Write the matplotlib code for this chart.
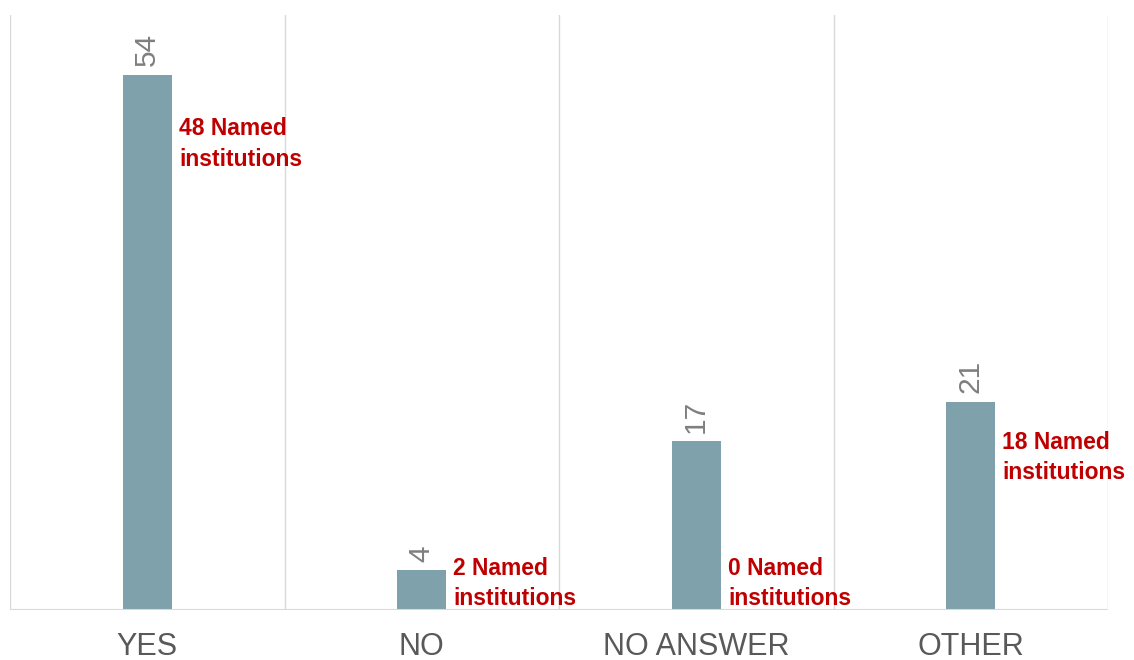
import matplotlib
matplotlib.use("Agg")
import matplotlib.pyplot as plt

categories = ["YES", "NO", "NO ANSWER", "OTHER"]
counts = [54, 4, 17, 21]
named = [48, 2, 0, 18]
note_y = [47, 2.7, 2.7, 15.4]

plt.rcParams["font.family"] = ["Liberation Sans", "DejaVu Sans"]

fig = plt.figure(figsize=(11.34, 6.6), dpi=100)
ax = fig.add_axes([10 / 1134, 50 / 660, 1098 / 1134, 595 / 660])

bar_w = 0.18
x = list(range(len(categories)))
ax.bar(x, counts, width=bar_w, color="#7ea1ab", zorder=3)

grid_c = "#d9d9d9"
for b in [i - 0.5 for i in range(len(categories) + 1)]:
    ax.axvline(b, color=grid_c, lw=1.0, zorder=1)
ax.axhline(0, color=grid_c, lw=1.5, zorder=4)

for xi, v, n, ny in zip(x, counts, named, note_y):
    ax.annotate(str(v), (xi, v), xytext=(0, 6), textcoords="offset points",
                rotation=90, ha="center", va="bottom", fontsize=21.5,
                color="#7f7f7f")
    ax.annotate(f"{n} Named\ninstitutions", (xi + bar_w / 2, ny),
                xytext=(5, 0), textcoords="offset points", ha="left",
                va="center", fontsize=16.5, fontweight="bold", color="#c00000",
                linespacing=1.4)

ax.set_xlim(-0.5, 3.5)
ax.set_ylim(0, 60)
ax.set_yticks([])
ax.set_xticks(x)
ax.set_xticklabels(categories, fontsize=22, color="#595959")
ax.tick_params(axis="x", length=0, pad=16)
for s in ax.spines.values():
    s.set_visible(False)

fig.savefig("out.png", dpi=100, facecolor="white")
